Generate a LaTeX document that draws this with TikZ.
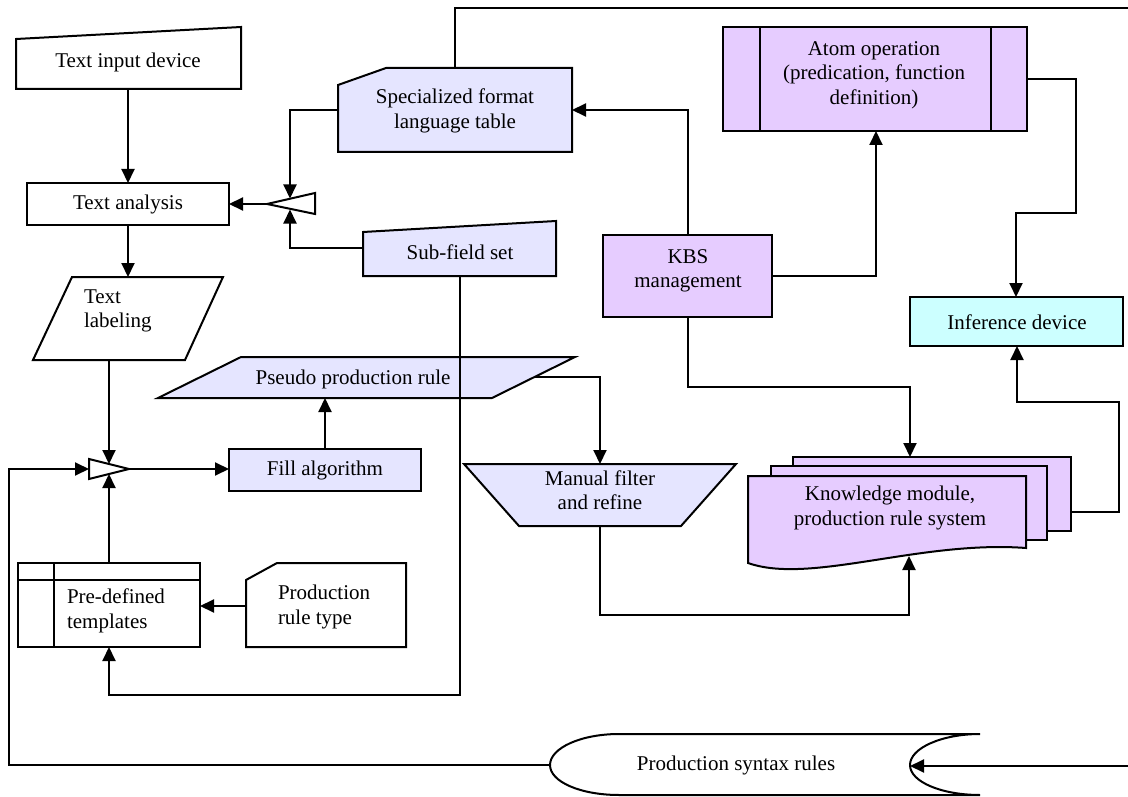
\documentclass[tikz,border=0pt]{standalone}
\usepackage{fontspec}
\setmainfont{Liberation Serif}
\usetikzlibrary{arrows.meta}
\definecolor{lblue}{RGB}{229,229,255}
\definecolor{lpurp}{RGB}{230,204,255}
\definecolor{lcyan}{RGB}{204,255,255}
\begin{document}
\begin{tikzpicture}[x=1pt,y=-1pt,line width=2pt,
  shp/.style={draw=black,line join=miter},
  conn/.style={draw,line join=miter,-{Triangle[length=14pt,width=13pt]}},
  lbl/.style={font=\fontsize{21}{24.5}\selectfont,align=center,inner sep=0pt},
  lbll/.style={font=\fontsize{21}{24.5}\selectfont,align=left,inner sep=0pt,anchor=west}]
\useasboundingbox (0,0) rectangle (1128,797);

% ---------- shapes ----------
% Text input device
\draw[shp,fill=white] (16,39) -- (241,27) -- (241,89) -- (16,89) -- cycle;
\node[lbl] (tin) at (128,62) {Text input device};
% Text analysis
\draw[shp,fill=white] (27,183) rectangle (229,225);
\node[lbl] (tan) at (128,204) {Text analysis};
% Text labeling
\draw[shp,fill=white] (72,277) -- (223,277) -- (185,360) -- (33,360) -- cycle;
\node[lbll] (tlab) at (83,311) {Text\\labeling};
% collate 1
\draw[shp,fill=white] (267,204) -- (315,193) -- (315,214) -- cycle;
\coordinate (c1tip) at (267,204);
% Specialized format language table
\draw[shp,fill=lblue] (338,85) -- (386,68) -- (572,68) -- (572,152) -- (338,152) -- cycle;
\node[lbl] (spec) at (455,111) {Specialized format\\language table};
% Sub-field set
\draw[shp,fill=lblue] (363,232) -- (556,221) -- (556,276) -- (363,276) -- cycle;
\node[lbl] (sub) at (460,252) {Sub-field set};
% Atom operation
\draw[shp,fill=lpurp] (723,27) rectangle (1027,131);
\draw[shp] (760,27) -- (760,131) (991,27) -- (991,131);
\node[lbl] (atom) at (874,75) {Atom operation\\(predication, function\\definition)};
% KBS management
\draw[shp,fill=lpurp] (603,235) rectangle (772,317);
\node[lbl] (kbs) at (688,271) {KBS\\management};
% Inference device
\draw[shp,fill=lcyan] (910,297) rectangle (1123,346);
\node[lbl] (inf) at (1017,322) {Inference device};
% Pseudo production rule
\draw[shp,fill=lblue] (241,357) -- (575,357) -- (492,398) -- (158,398) -- cycle;
\node[lbl] (pseudo) at (353,379) {Pseudo production rule};
% Fill algorithm
\draw[shp,fill=lblue] (229,449) rectangle (421,491);
\node[lbl] (fill) at (325,470) {Fill algorithm};
% collate 2
\draw[shp,fill=white] (89,459) -- (129,469) -- (89,479) -- cycle;
\coordinate (c2tip) at (129,469);
% Manual filter and refine
\draw[shp,fill=lblue] (464,464) -- (736,464) -- (681,526) -- (519,526) -- cycle;
\node[lbl] (man) at (600,490) {Manual filter\\and refine};
% Knowledge module (multi document)
\draw[shp,fill=lpurp] (793,457) rectangle (1071,531);
\draw[shp,fill=lpurp] (771,466) rectangle (1047,540);
\draw[shp,fill=lpurp] (748,476) -- (1026,476) -- (1026,548)
  .. controls (920,540) and (810,585) .. (748,563) -- cycle;
\node[lbl] (know) at (890,508) {Knowledge module,\\production rule system};
% Pre-defined templates
\draw[shp,fill=white] (18,563) rectangle (200,647);
\draw[shp] (18,580) -- (200,580) (54,563) -- (54,647);
\node[lbll] (tmpl) at (66,611) {Pre-defined\\templates};
% Production rule type
\draw[shp,fill=white] (246,580) -- (277,563) -- (406,563) -- (406,647) -- (246,647) -- cycle;
\node[lbll] (prt) at (277,607) {Production\\rule type};
% Production syntax rules
\draw[shp,fill=white] (619,734) -- (980,734)
  .. controls (942,734) and (910,748) .. (910,765)
  .. controls (910,782) and (942,795) .. (980,795) -- (619,795)
  .. controls (581,795) and (550,782) .. (550,765)
  .. controls (550,748) and (581,734) .. (619,734) -- cycle;
\node[lbl] (psr) at (736,765) {Production syntax rules};

% ---------- connectors ----------
\draw[conn] (128,89) -- (128,183);
\draw[conn] (128,225) -- (128,277);
\draw[conn] (c1tip) -- (229,204);
\draw[conn] (338,110) -| (290,198.5);
\draw[conn] (363,248) -| (290,209.5);
\draw[conn] (455,68) -- (455,8) -- (1140,8) -- (1140,766) -- (910,766);
\draw[conn] (688,235) -- (688,110) -- (572,110);
\draw[conn] (772,276) -| (876,131);
\draw[conn] (1027,79) -| (1076,213) -| (1016,297);
\draw[conn] (688,317) |- (910,387) -- (910,457);
\draw[conn] (1071,512) -| (1119,402) -| (1017,346);
\draw[conn] (534.5,377) -| (600,464);
\draw[conn] (600,526) |- (909,615) -- (909,556);
\draw[conn] (109,360) -- (109,464);
\draw[conn] (c2tip) -- (229,469);
\draw[conn] (550,765) -| (9,469) -- (89,469);
\draw[conn] (109,563) -- (109,474);
\draw[conn] (246,606) -- (200,606);
\draw[conn] (460,276) |- (109,695) -- (109,647);
\draw[conn] (325,449) -- (325,398);
\end{tikzpicture}
\end{document}
